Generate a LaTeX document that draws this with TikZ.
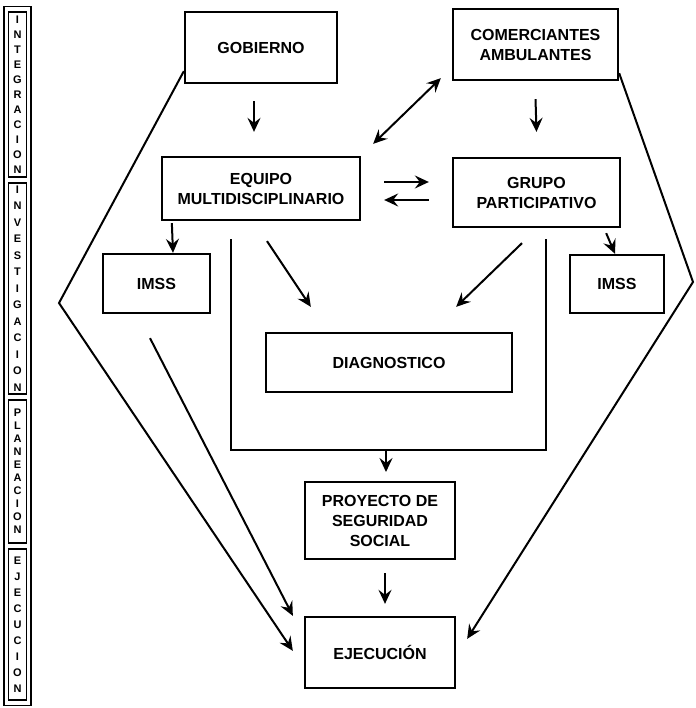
\documentclass[tikz,border=0pt]{standalone}
\usepackage{fontspec}
\setsansfont{Liberation Sans}
\usetikzlibrary{arrows.meta}

\begin{document}
\begin{tikzpicture}[
    x=1pt, y=-1pt,
    font=\sffamily\bfseries,
    >={Stealth[length=14pt,width=13pt,inset=5pt]},
    every node/.style={align=center, inner sep=0pt},
    caja/.style={draw, line width=2.3pt, font=\sffamily\bfseries\fontsize{16}{20}\selectfont},
    etapa/.style={draw, line width=1.6pt, minimum width=18pt, font=\sffamily\bfseries\fontsize{11}{#1}\selectfont},
    flecha/.style={->, line width=2pt},
    linea/.style={line width=2pt}
  ]
    \useasboundingbox (0,0) rectangle (695,708);

    % columna de etapas
    \node[draw, line width=1.6pt, minimum width=27pt, minimum height=699pt] (marco) at (17.5,356) {};
    \node[etapa=15, minimum height=165pt] (integ) at (17.5,94.5) {I\\N\\T\\E\\G\\R\\A\\C\\I\\O\\N};
    \node[etapa=16.5, minimum height=211pt] (invest) at (17.5,288.5) {I\\N\\V\\E\\S\\T\\I\\G\\A\\C\\I\\O\\N};
    \node[etapa=13, minimum height=143pt] (plan) at (17.5,471.5) {P\\L\\A\\N\\E\\A\\C\\I\\O\\N};
    \node[etapa=16, minimum height=151pt] (ejecu) at (17.5,624.5) {E\\J\\E\\C\\U\\C\\I\\O\\N};

    % cajas
    \node[caja, minimum width=152pt, minimum height=71pt] (gob) at (261,47.5) {GOBIERNO};
    \node[caja, minimum width=165pt, minimum height=71pt] (com) at (535.5,44.5) {COMERCIANTES\\AMBULANTES};
    \node[caja, minimum width=198pt, minimum height=63pt] (equipo) at (261,188.5) {EQUIPO\\MULTIDISCIPLINARIO};
    \node[caja, minimum width=167pt, minimum height=69pt] (grupo) at (536.5,192.5) {GRUPO\\PARTICIPATIVO};
    \node[caja, minimum width=107pt, minimum height=59pt] (imssI) at (156.5,283.5) {IMSS};
    \node[caja, minimum width=94pt, minimum height=58pt] (imssD) at (617,284) {IMSS};
    \node[caja, minimum width=246pt, minimum height=59pt] (diag) at (389,362.5) {DIAGNOSTICO};
    \node[caja, minimum width=150pt, minimum height=77pt] (proy) at (380,520.5) {PROYECTO DE\\SEGURIDAD\\SOCIAL};
    \node[caja, minimum width=150pt, minimum height=71pt] (ejec) at (380,652.5) {EJECUCIÓN};

    % vertices y cierre
    \coordinate (vI) at (59,303);
    \coordinate (vD) at (693,282);
    \coordinate (cierre) at (386,450);

    % flechas superiores
    \draw[flecha] ([xshift=-7pt,yshift=-17pt]gob.south) -- ([xshift=-7pt,yshift=24pt]equipo.north);
    \draw[flecha] ([yshift=-18pt]com.south) -- ([yshift=25pt]grupo.north);
    \draw[<->, line width=2pt] ([xshift=12pt,yshift=12pt]equipo.north east) -- ([xshift=-11pt,yshift=3pt]com.south west);
    \draw[flecha] ([xshift=23pt,yshift=6.5pt]equipo.east) -- ([xshift=-23pt,yshift=10.5pt]grupo.west);
    \draw[flecha] ([xshift=-23pt,yshift=-7.5pt]grupo.west) -- ([xshift=23pt,yshift=-11.5pt]equipo.east);

    % hacia IMSS y diagnostico
    \draw[flecha] ([xshift=11pt,yshift=-2pt]equipo.south west) -- ([xshift=16.5pt]imssI.north);
    \draw[flecha] ([xshift=-15pt,yshift=-5pt]grupo.south east) -- ([xshift=-2pt]imssD.north);
    \draw[flecha] ([xshift=6pt,yshift=-20pt]equipo.south) -- ([xshift=46pt,yshift=25pt]diag.north west);
    \draw[flecha] ([xshift=-14.5pt,yshift=-15pt]grupo.south) -- ([xshift=-57pt,yshift=25pt]diag.north east);

    % corchete hacia el proyecto
    \draw[linea] ([xshift=-30pt,yshift=-18pt]equipo.south) |- (cierre) -| ([xshift=9.5pt,yshift=-11pt]grupo.south);
    \draw[flecha] (cierre) -- ++(0,22);
    \draw[flecha] ([xshift=5pt,yshift=-13pt]proy.south) -- ([xshift=5pt,yshift=12pt]ejec.north);

    % lineas laterales a la ejecucion
    \draw[flecha] ([yshift=13pt]gob.south west) -- (vI) -- ([xshift=-11pt,yshift=-35pt]ejec.north west);
    \draw[flecha] ([xshift=-6.5pt,yshift=-24pt]imssI.south) -- ([xshift=-11pt]ejec.north west);
    \draw[flecha] ([yshift=8pt]com.south east) -- (vD) -- ([xshift=11pt,yshift=-23pt]ejec.north east);
\end{tikzpicture}
\end{document}
